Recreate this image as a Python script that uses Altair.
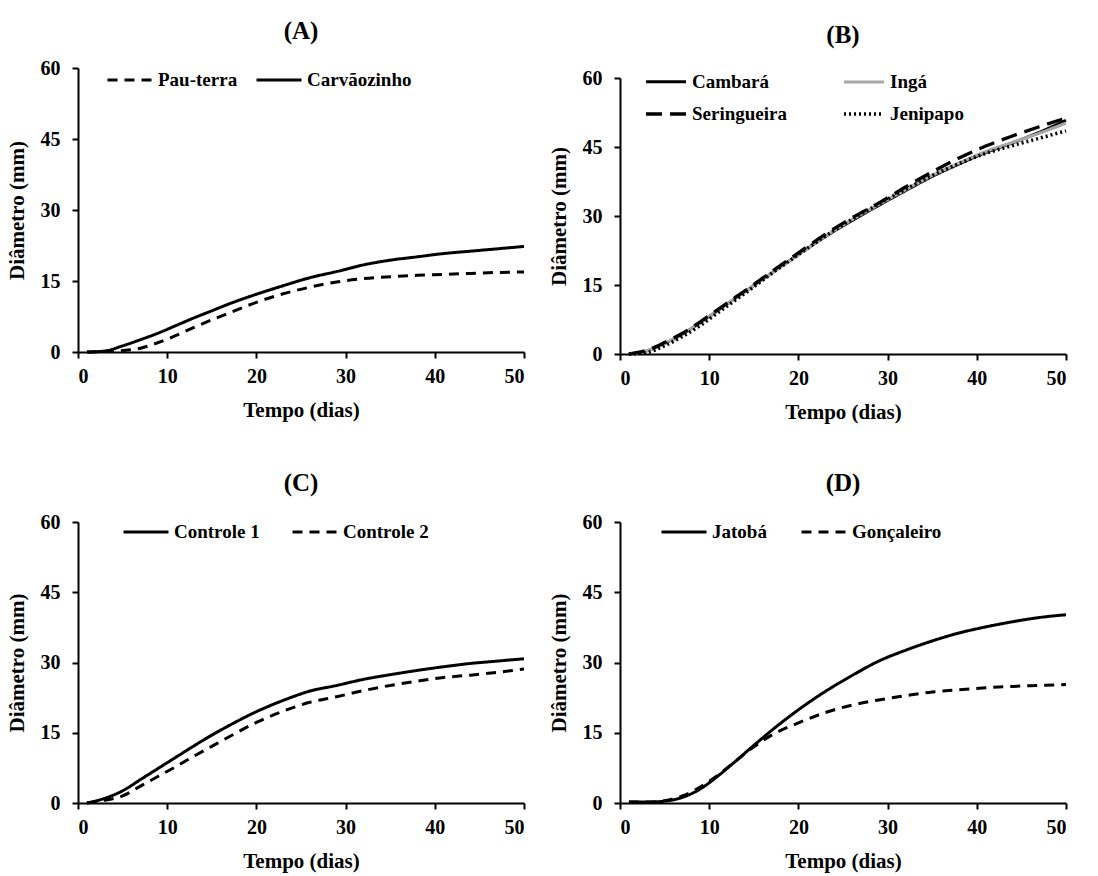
import altair as alt
import pandas as pd

FONT = "Liberation Serif"

days = [1, 3, 5, 7, 9, 11, 13, 15, 17, 20, 23, 26, 29, 32, 35, 38, 41, 44, 47, 50]

# Panel A
a_names = ["Pau-terra", "Carvãozinho"]
pau_terra = [0, 0.1, 0.3, 0.8, 2.0, 3.5, 5.2, 6.8, 8.3, 10.5, 12.3, 13.7, 14.8, 15.5, 15.9, 16.2, 16.4, 16.6, 16.8, 16.9]
carvaozinho = [0, 0.2, 1.3, 2.6, 4.0, 5.6, 7.2, 8.7, 10.2, 12.2, 14.0, 15.7, 17.0, 18.4, 19.4, 20.1, 20.8, 21.3, 21.8, 22.3]

# Panel B
b_names = ["Cambará", "Ingá", "Seringueira", "Jenipapo"]
cambara = [0, 0.7, 2.3, 4.3, 6.8, 9.5, 12.2, 14.9, 17.6, 21.6, 25.5, 29.0, 32.3, 35.5, 38.6, 41.3, 43.8, 45.9, 48.2, 50.8]
inga = [0, 0.7, 2.3, 4.3, 6.8, 9.5, 12.2, 14.9, 17.6, 21.6, 25.6, 29.2, 32.5, 35.7, 38.8, 41.5, 44.0, 46.0, 48.0, 50.2]
seringueira = [0, 0.8, 2.5, 4.5, 7.0, 9.7, 12.4, 15.1, 17.9, 22.0, 26.0, 29.6, 32.8, 36.3, 39.6, 42.6, 45.2, 47.4, 49.4, 51.3]
jenipapo = [0, 0.3, 1.8, 3.8, 6.2, 9.0, 11.8, 14.6, 17.5, 21.6, 25.6, 29.3, 32.6, 35.8, 38.8, 41.4, 43.6, 45.3, 46.9, 48.5]

# Panel C
c_names = ["Controle 1", "Controle 2"]
controle1 = [0, 1.0, 2.6, 5.0, 7.4, 9.8, 12.2, 14.5, 16.6, 19.5, 21.9, 23.9, 25.1, 26.4, 27.4, 28.3, 29.1, 29.8, 30.3, 30.8]
controle2 = [0, 0.6, 1.5, 3.6, 5.7, 7.8, 10.0, 12.1, 14.2, 17.2, 19.6, 21.5, 22.7, 24.0, 25.1, 26.0, 26.8, 27.3, 27.9, 28.6]

# Panel D
d_names = ["Jatobá", "Gonçaleiro"]
jatoba = [0.2, 0.2, 0.4, 1.2, 3.0, 5.8, 9.0, 12.3, 15.5, 19.9, 23.8, 27.2, 30.3, 32.6, 34.6, 36.3, 37.6, 38.7, 39.6, 40.2]
goncaleiro = [0.2, 0.2, 0.5, 1.5, 3.4, 6.0, 9.0, 12.0, 14.5, 17.1, 19.3, 20.9, 22.0, 22.9, 23.7, 24.2, 24.6, 24.9, 25.1, 25.3]

x_ticks = [0, 10, 20, 30, 40, 50]
y_ticks = [0, 15, 30, 45, 60]


def panel(title, names, series, colors, dashes, widths, height, top_gap,
          leg_x, leg_y, columns, col_pad, row_pad=6, sym=2025):
    rows = []
    for n, vals in zip(names, series):
        for d, v in zip(days, vals):
            rows.append({"dia": d, "diam": v, "serie": n})
    df = pd.DataFrame(rows)
    leg = alt.Legend(
        title=None, orient="none", legendX=leg_x, legendY=leg_y,
        direction="horizontal", columns=columns, columnPadding=col_pad,
        rowPadding=row_pad, symbolType="stroke", symbolSize=sym,
        labelFont=FONT, labelFontSize=19, labelFontWeight="bold",
        labelColor="black", labelOffset=4,
    )
    return alt.Chart(df).mark_line(interpolate="monotone").encode(
        x=alt.X("dia:Q", scale=alt.Scale(domain=[0, 50], nice=False),
                axis=alt.Axis(values=x_ticks, title="Tempo (dias)")),
        y=alt.Y("diam:Q", scale=alt.Scale(domain=[0, 60], nice=False, range=[height, top_gap]),
                axis=alt.Axis(values=y_ticks, title="Diâmetro  (mm)")),
        color=alt.Color("serie:N", scale=alt.Scale(domain=names, range=colors), legend=leg),
        strokeDash=alt.StrokeDash("serie:N", scale=alt.Scale(domain=names, range=dashes), legend=leg),
        strokeWidth=alt.StrokeWidth("serie:N", scale=alt.Scale(domain=names, range=widths), legend=leg),
    ).properties(
        width=446, height=height,
        title=alt.TitleParams(title, offset=12, frame="group"),
    )


SOLID = [1, 0]
DASH = [10, 7]

pA = panel("(A)", a_names, [pau_terra, carvaozinho], ["black", "black"],
           [DASH, SOLID], [3, 3], 284, 0, 28, -12, 2, 12)
pB = panel("(B)", b_names, [cambara, inga, seringueira, jenipapo],
           ["black", "#a6a6a6", "black", "black"],
           [SOLID, SOLID, [16, 8], [2, 3]], [3, 3.5, 2.5, 2.5], 286, 10, 24, -8, 2, 50, -10, 1600)
pC = panel("(C)", c_names, [controle1, controle2], ["black", "black"],
           [SOLID, DASH], [3, 3], 281, 0, 44, -14, 2, 26)
pD = panel("(D)", d_names, [jatoba, goncaleiro], ["black", "black"],
           [SOLID, DASH], [3, 3], 281, 0, 40, -14, 2, 28)

ind = dict(color="independent", strokeDash="independent", strokeWidth="independent")

row1 = alt.hconcat(pA, pB, spacing=18).resolve_scale(**ind).resolve_legend(**ind)
row2 = alt.hconcat(pC, pD, spacing=18).resolve_scale(**ind).resolve_legend(**ind)

chart = alt.vconcat(row1, row2, spacing=49).resolve_scale(**ind).resolve_legend(**ind).properties(
    padding={"left": 6, "top": 19, "right": 10, "bottom": 2},
    background="white",
).configure_view(stroke=None).configure_axis(
    grid=False,
    domainColor="black", domainWidth=2,
    tickColor="black", tickWidth=2, tickSize=6,
    labelFont=FONT, labelFontSize=20, labelFontWeight="bold", labelColor="black",
    titleFont=FONT, titleFontSize=21, titleFontWeight="bold", titleColor="black",
).configure_axisY(
    labelPadding=12, titlePadding=13,
).configure_axisX(
    labelPadding=8, titlePadding=13,
).configure_title(
    font=FONT, fontSize=25, fontWeight="bold", color="black", anchor="middle",
)

chart.save("out.html", embed_options={"renderer": "svg", "actions": False})
